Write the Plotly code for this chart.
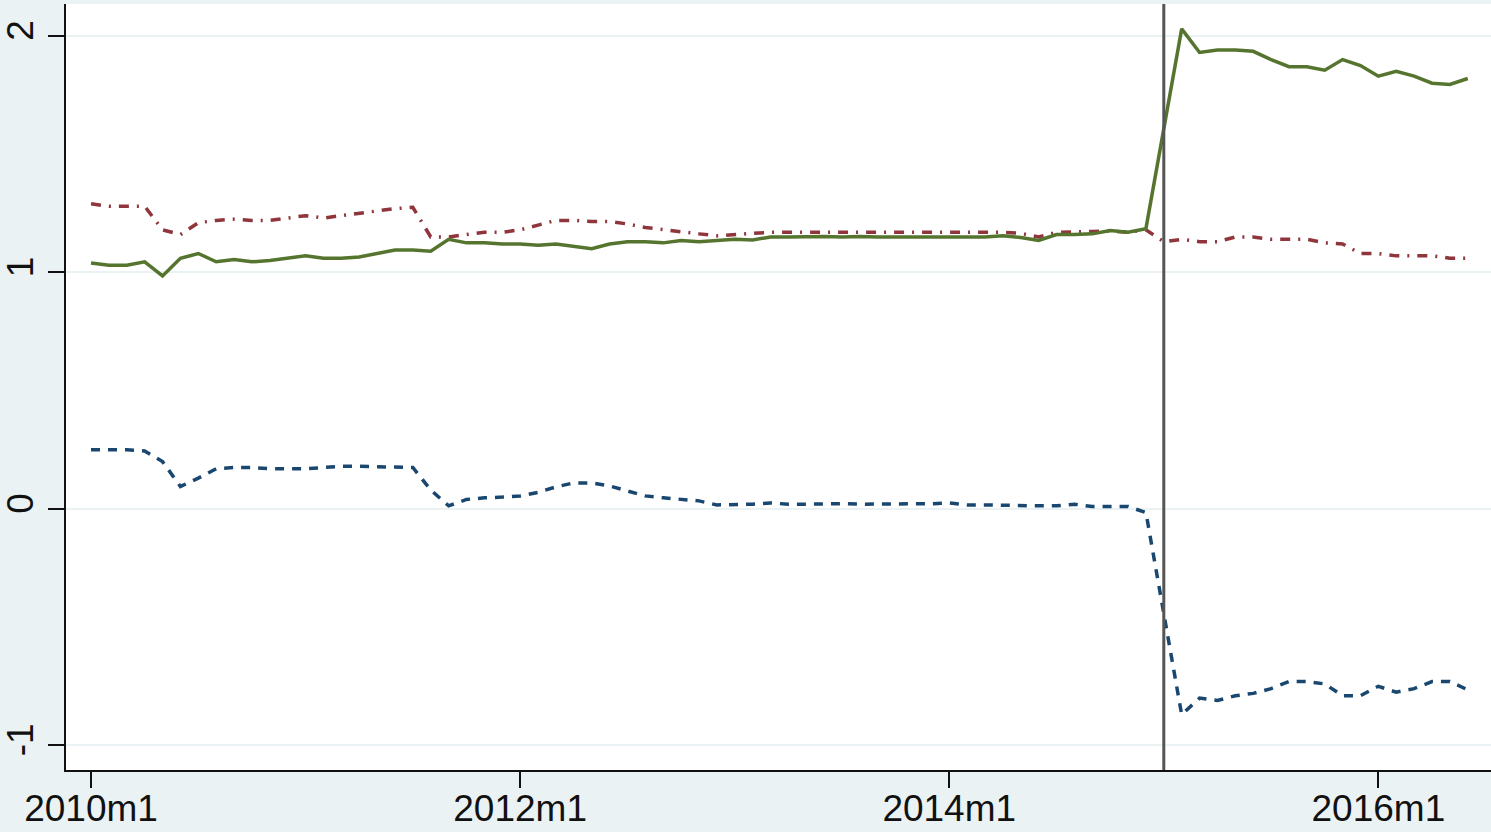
import plotly.graph_objects as go

# Monthly index: 0 = 2010m1 ... 77 = 2016m6
months = list(range(78))
tick_pos = [0, 24, 48, 72]
tick_text = ["2010m1", "2012m1", "2014m1", "2016m1"]
y_ticks = [-1, 0, 1, 2]
y_tick_text = ["-1", "0", "1", "2"]
break_month = 60  # 2015m1

green_series = [
    1.04, 1.03, 1.03, 1.045, 0.985, 1.06, 1.08, 1.045, 1.055, 1.045,
    1.05, 1.06, 1.07, 1.06, 1.06, 1.065, 1.08, 1.095, 1.095, 1.09,
    1.14, 1.125, 1.125, 1.12, 1.12, 1.115, 1.12, 1.11, 1.10, 1.12,
    1.13, 1.13, 1.125, 1.135, 1.13, 1.135, 1.14, 1.137, 1.15, 1.15,
    1.152, 1.152, 1.15, 1.152, 1.15, 1.15, 1.15, 1.15, 1.15, 1.152,
    1.15, 1.155, 1.148, 1.135, 1.16, 1.16, 1.163, 1.177, 1.17, 1.185,
    1.60, 2.03, 1.93, 1.94, 1.94, 1.935, 1.90, 1.87, 1.87, 1.855,
    1.90, 1.875, 1.83, 1.85, 1.83, 1.80, 1.795, 1.82,
]

red_series = [
    1.29, 1.28, 1.28, 1.28, 1.18, 1.16, 1.21, 1.22, 1.225, 1.22,
    1.22, 1.23, 1.24, 1.23, 1.24, 1.25, 1.26, 1.27, 1.275, 1.15,
    1.15, 1.16, 1.17, 1.17, 1.18, 1.20, 1.22, 1.22, 1.215, 1.215,
    1.205, 1.19, 1.18, 1.17, 1.163, 1.155, 1.16, 1.167, 1.17, 1.17,
    1.17, 1.17, 1.17, 1.17, 1.17, 1.17, 1.17, 1.17, 1.17, 1.17,
    1.17, 1.17, 1.165, 1.15, 1.17, 1.17, 1.173, 1.175, 1.17, 1.18,
    1.13, 1.14, 1.13, 1.13, 1.15, 1.15, 1.14, 1.14, 1.14, 1.125,
    1.12, 1.08, 1.08, 1.07, 1.07, 1.07, 1.06, 1.06,
]

blue_series = [
    0.25, 0.25, 0.25, 0.245, 0.20, 0.095, 0.13, 0.17, 0.175, 0.175,
    0.17, 0.17, 0.17, 0.175, 0.18, 0.18, 0.178, 0.175, 0.175, 0.08,
    0.013, 0.04, 0.047, 0.05, 0.055, 0.07, 0.093, 0.11, 0.11, 0.097,
    0.076, 0.055, 0.047, 0.042, 0.034, 0.017, 0.017, 0.02, 0.025, 0.02,
    0.02, 0.022, 0.022, 0.02, 0.02, 0.022, 0.022, 0.022, 0.025, 0.017,
    0.017, 0.015, 0.013, 0.013, 0.013, 0.02, 0.01, 0.01, 0.01, -0.015,
    -0.44, -0.87, -0.80, -0.81, -0.79, -0.78, -0.76, -0.73, -0.73, -0.74,
    -0.79, -0.79, -0.75, -0.775, -0.76, -0.73, -0.73, -0.765,
]

BG = "#eaf2f3"
FONT = "Liberation Sans, Arial, Helvetica, sans-serif"

fig = go.Figure()

fig.add_trace(go.Scatter(
    x=months, y=blue_series, mode="lines",
    line=dict(color="#1a476f", width=3.5, dash="9px,8px"),
    showlegend=False,
))
fig.add_trace(go.Scatter(
    x=months, y=red_series, mode="lines",
    line=dict(color="#90353b", width=3.5, dash="10px,8px,2px,8px"),
    showlegend=False,
))
fig.add_trace(go.Scatter(
    x=months, y=green_series, mode="lines",
    line=dict(color="#55752f", width=3.5),
    showlegend=False,
))

# Reference line at the policy break
fig.add_shape(
    type="line", xref="x", yref="paper",
    x0=break_month, x1=break_month, y0=0, y1=1,
    line=dict(color="#555555", width=3),
)

fig.update_layout(
    width=1491, height=832,
    margin=dict(l=66, r=0, t=4, b=62, autoexpand=False),
    paper_bgcolor=BG,
    plot_bgcolor="white",
    font=dict(family=FONT, color="#111111", size=38),
    xaxis=dict(
        range=[-1.4, 78.3],
        tickmode="array", tickvals=tick_pos, ticktext=tick_text,
        showgrid=False, zeroline=False, automargin=False,
        showline=True, linecolor="#111111", linewidth=2,
        ticks="outside", ticklen=16, tickwidth=2, tickcolor="#111111",
        ticklabelstandoff=-11,
        tickfont=dict(size=37),
    ),
    yaxis=dict(
        range=[-1.104, 2.135],
        tickmode="array", tickvals=y_ticks, ticktext=y_tick_text,
        showgrid=True, gridcolor=BG, gridwidth=2,
        zeroline=False, automargin=False,
        showline=True, linecolor="#111111", linewidth=2,
        ticks="outside", ticklen=16, tickwidth=2, tickcolor="#111111",
        tickangle=-90,
        tickfont=dict(size=37),
    ),
)

fig.write_html("out.html")
